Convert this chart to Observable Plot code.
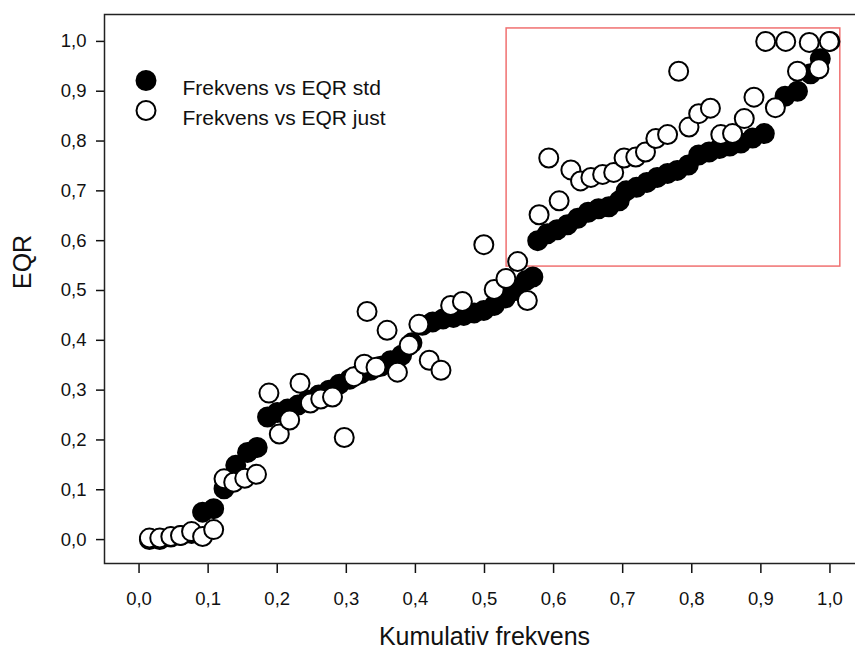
<!DOCTYPE html>
<html>
<head>
<meta charset="utf-8">
<script src="https://cdn.jsdelivr.net/npm/d3@7"></script>
<script src="https://cdn.jsdelivr.net/npm/@observablehq/plot@0.6"></script>
<style>
  html, body { margin: 0; padding: 0; background: white; overflow: hidden; }
  #wrap { width: 855px; height: 650px; overflow: hidden; position: relative; }
  #wrap svg { max-width: none !important; }
</style>
</head>
<body>
<div id="wrap"></div>
<script>
// Series "Frekvens vs EQR std" (filled)
const xStd = [0.015,0.030,0.046,0.060,0.076,0.092,0.108,0.123,0.140,0.157,0.171,0.186,
  0.200,0.215,0.230,0.244,0.260,0.275,0.290,0.305,0.321,0.335,
  0.350,0.364,0.380,0.395,0.410,0.425,0.440,0.455,0.470,0.485,
  0.499,0.514,0.530,0.545,0.560,0.570,0.577,0.591,0.605,0.620,
  0.635,0.650,0.665,0.680,0.695,0.705,0.720,0.735,0.750,0.765,
  0.779,0.795,0.810,0.825,0.840,0.855,0.871,0.888,0.905,0.935,
  0.953,0.972,0.986,1.000];
const yStd = [0.000,0.000,0.005,0.008,0.012,0.055,0.062,0.102,0.149,0.175,0.185,0.246,
  0.255,0.262,0.270,0.280,0.290,0.300,0.312,0.322,0.333,0.340,
  0.348,0.359,0.370,0.395,0.430,0.437,0.443,0.446,0.450,0.455,
  0.460,0.470,0.485,0.500,0.520,0.527,0.600,0.614,0.622,0.632,
  0.645,0.657,0.664,0.668,0.680,0.700,0.707,0.717,0.727,0.735,
  0.741,0.752,0.772,0.778,0.785,0.790,0.796,0.806,0.815,0.890,
  0.900,0.935,0.965,1.000];

// Series "Frekvens vs EQR just" (open)
const xJust = [0.015,0.030,0.046,0.060,0.076,0.092,0.108,0.123,0.137,0.153,0.170,
  0.188,0.203,0.218,0.233,0.248,0.263,0.280,0.297,0.311,0.326,
  0.330,0.343,0.359,0.374,0.391,0.405,0.420,0.437,0.451,0.468,
  0.499,0.514,0.531,0.548,0.562,0.579,0.593,0.608,0.625,0.639,
  0.654,0.671,0.687,0.702,0.719,0.733,0.748,0.765,0.781,0.796,
  0.810,0.827,0.842,0.859,0.876,0.890,0.907,0.921,0.936,0.953,
  0.970,0.984,0.999];
const yJust = [0.003,0.003,0.006,0.008,0.016,0.006,0.020,0.122,0.115,0.123,0.131,
  0.294,0.212,0.240,0.314,0.274,0.282,0.286,0.205,0.327,0.352,
  0.458,0.346,0.420,0.336,0.390,0.432,0.360,0.340,0.470,0.478,
  0.592,0.502,0.524,0.558,0.480,0.652,0.766,0.680,0.742,0.720,
  0.727,0.733,0.737,0.766,0.768,0.778,0.805,0.813,0.940,0.828,
  0.855,0.866,0.813,0.815,0.845,0.888,1.000,0.867,1.000,0.940,
  0.998,0.945,1.000];

// Highlight region (data units)
const boxX = [0.532, 1.015];
const boxY = [0.548, 1.026];

const xTicks = [0,0.1,0.2,0.3,0.4,0.5,0.6,0.7,0.8,0.9,1.0];
const yTicks = [0,0.1,0.2,0.3,0.4,0.5,0.6,0.7,0.8,0.9,1.0];
const legendLabels = ["Frekvens vs EQR std", "Frekvens vs EQR just"];
const xTitle = "Kumulativ frekvens";
const yTitle = "EQR";

const stdData = xStd.map((x, i) => ({x, y: yStd[i]}));
const justData = xJust.map((x, i) => ({x, y: yJust[i]}));
const fmt = d => d.toFixed(1).replace(".", ",");
const ink = "#111";

const legendMarks = legendLabels.flatMap((label, i) => [
  Plot.dot([label], {frameAnchor: "top-left", dx: 41.5, dy: 66 + 30 * i, r: 9.5,
    fill: i === 0 ? "black" : "white", stroke: "black", strokeWidth: 2}),
  Plot.text([label], {frameAnchor: "top-left", dx: 78, dy: 66 + 30 * i, text: d => d,
    textAnchor: "start", fontSize: 21, fill: ink})
]);

const chart = Plot.plot({
  width: 864, height: 650,
  marginLeft: 104, marginRight: 0, marginTop: 14, marginBottom: 87,
  style: {fontFamily: "Arial, 'Liberation Sans', sans-serif", fontSize: "18px", color: ink, background: "white", maxWidth: "none"},
  x: {domain: [-0.05, 1.05]},
  y: {domain: [-0.048, 1.054]},
  marks: [
    Plot.axisX({ticks: xTicks, tickFormat: fmt, tickSize: 10, tickPadding: 18, strokeWidth: 1.5, fontSize: 18.5, label: null}),
    Plot.axisY({ticks: yTicks, tickFormat: fmt, tickSize: 8, tickPadding: 10, strokeWidth: 1.5, fontSize: 18.5, label: null}),
    Plot.rect([{x1: boxX[0], x2: boxX[1], y1: boxY[0], y2: boxY[1]}],
      {x1: "x1", x2: "x2", y1: "y1", y2: "y2", fill: "none", stroke: "#f07070", strokeWidth: 1.5}),
    Plot.dot(stdData, {x: "x", y: "y", r: 9.5, fill: "black", stroke: "black", strokeWidth: 2}),
    Plot.dot(justData, {x: "x", y: "y", r: 9.5, fill: "white", stroke: "black", strokeWidth: 2}),
    Plot.frame({stroke: "#222", strokeWidth: 1.5}),
    ...legendMarks,
    Plot.text([xTitle], {frameAnchor: "bottom", dy: 73, text: d => d, fontSize: 25, fill: ink, lineAnchor: "middle"}),
    Plot.text([yTitle], {frameAnchor: "left", dx: -82, rotate: -90, text: d => d, fontSize: 25, fill: ink, lineAnchor: "middle"})
  ]
});
document.getElementById("wrap").appendChild(chart);
</script>
</body>
</html>
